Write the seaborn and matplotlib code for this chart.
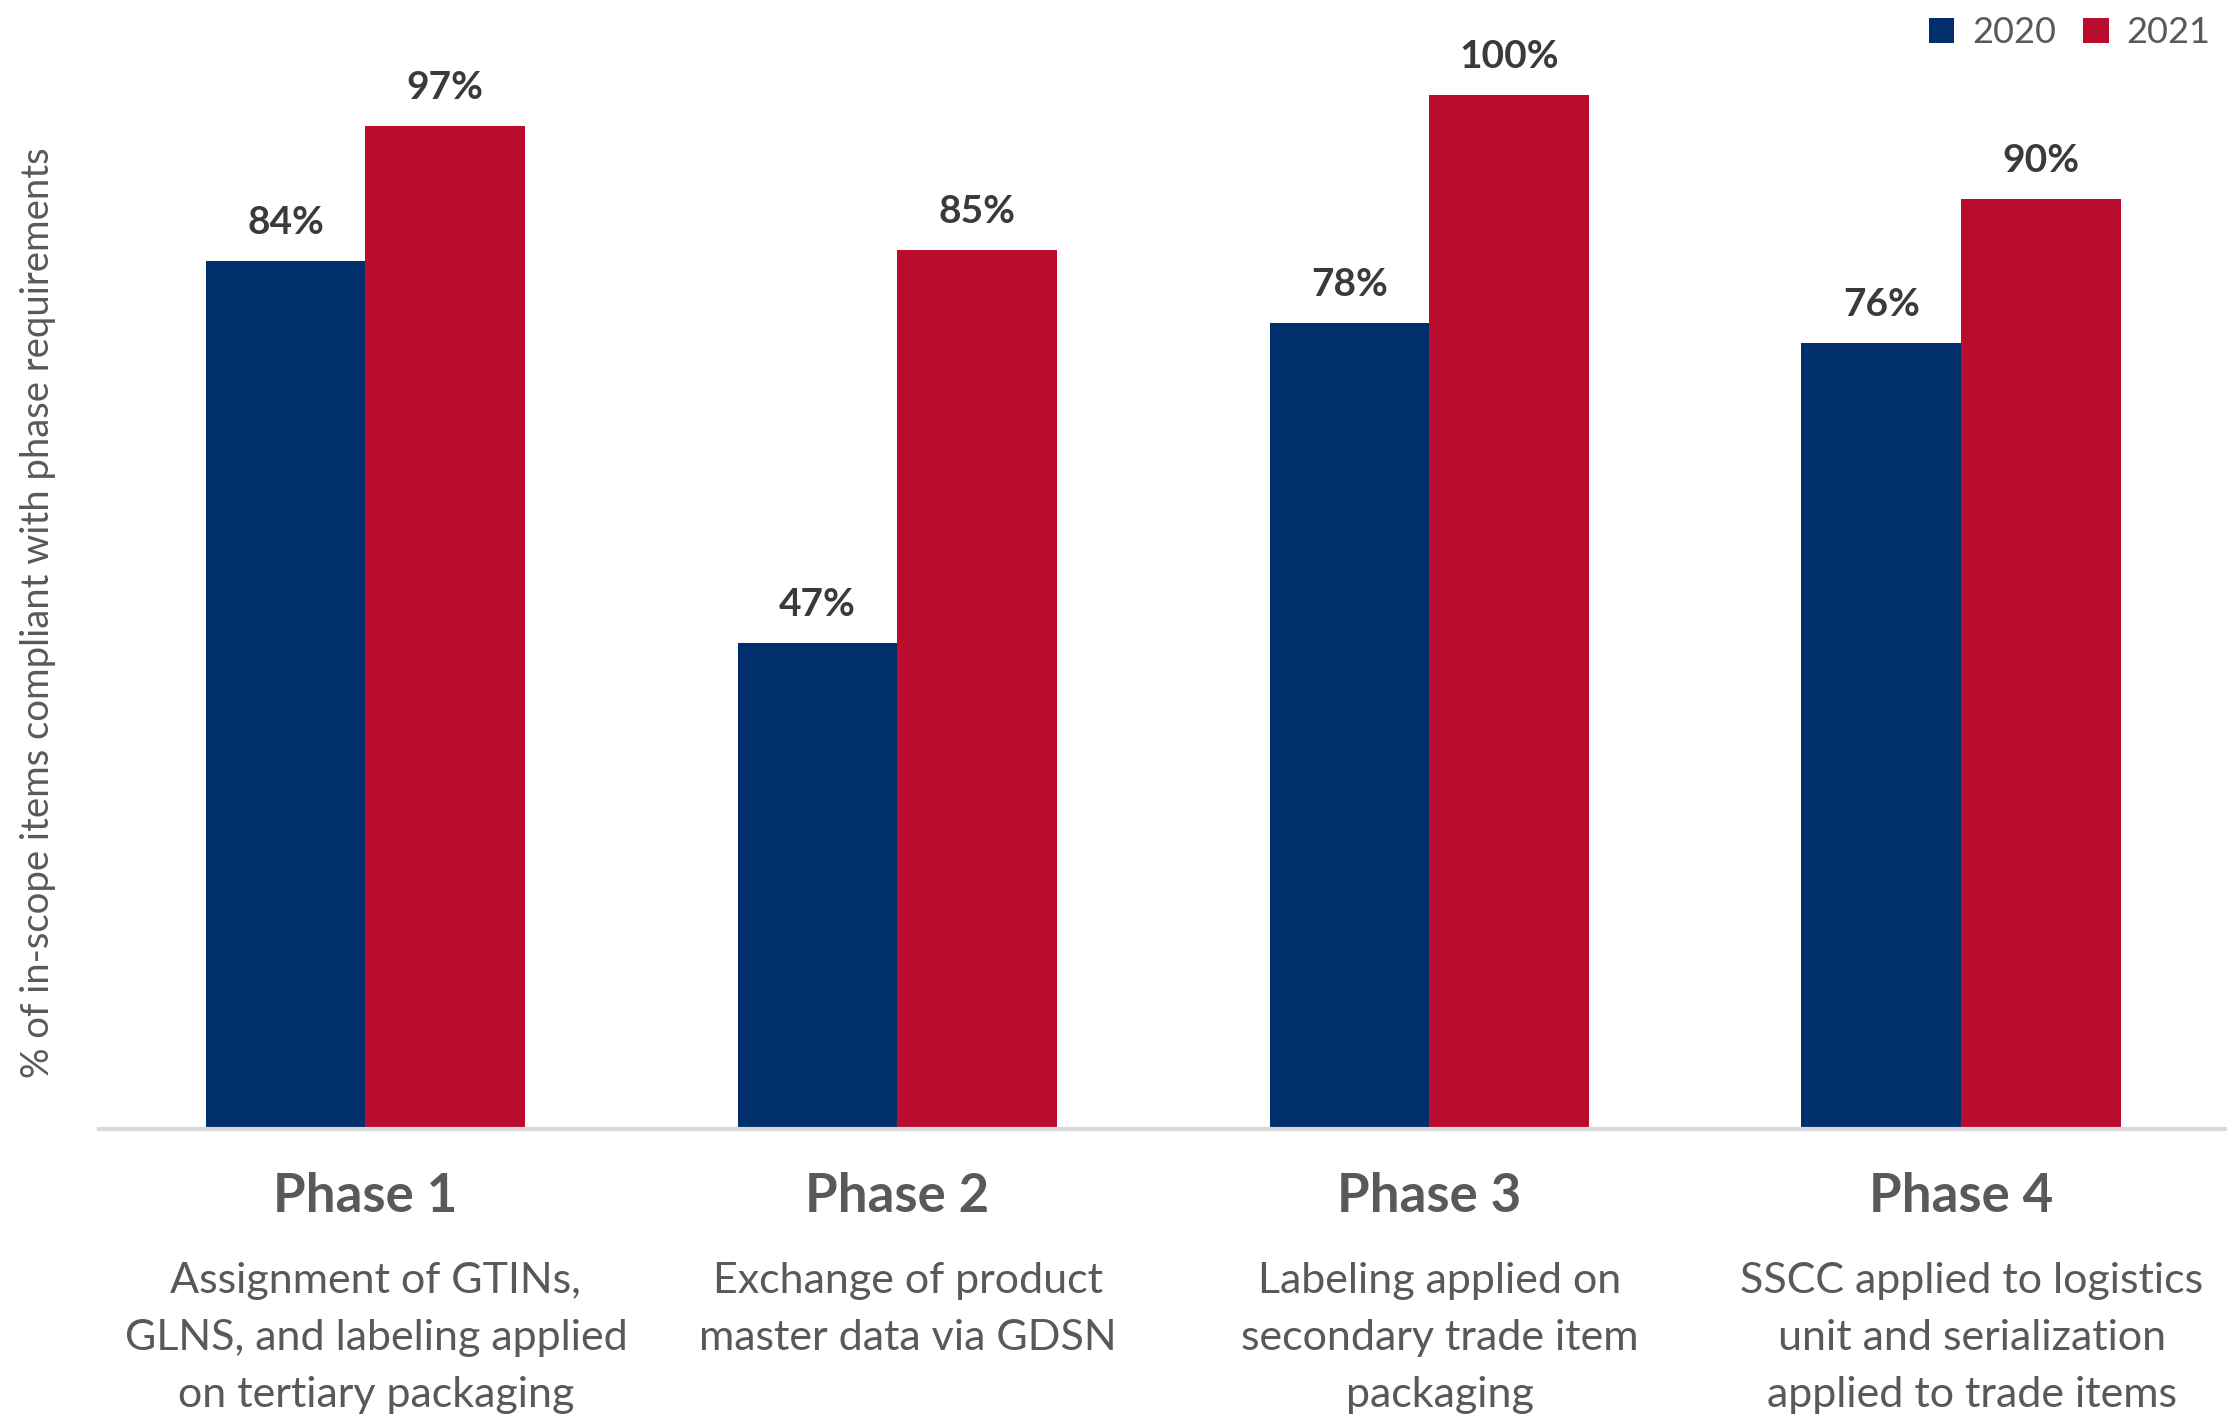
import matplotlib
matplotlib.use("Agg")
import matplotlib.pyplot as plt
import matplotlib.transforms as mtransforms
import pandas as pd
import seaborn as sns

# data
phases = ["Phase 1", "Phase 2", "Phase 3", "Phase 4"]
descriptions = [
    "Assignment of GTINs,\nGLNS, and labeling applied\non tertiary packaging",
    "Exchange of product\nmaster data via GDSN",
    "Labeling applied on\nsecondary trade item\npackaging",
    "SSCC applied to logistics\nunit and serialization\napplied to trade items",
]
years = ["2020", "2021"]
values_2020 = [84, 47, 78, 76]
values_2021 = [97, 85, 100, 90]

NAVY = "#002F6C"
RED = "#BA0C2F"
TEXT_DARK = "#3A3A3A"
TEXT_GRAY = "#595959"

df = pd.DataFrame({
    "phase": phases * 2,
    "year": [years[0]] * 4 + [years[1]] * 4,
    "value": values_2020 + values_2021,
})

sns.set_style("white")
plt.rcParams["font.family"] = ["Lato", "DejaVu Sans"]

fig = plt.figure(figsize=(22.27, 14.16), dpi=100)
ax = fig.add_axes([0.0446, 0.2026, 0.9554, 0.7667])

sns.barplot(data=df, x="phase", y="value", hue="year", order=phases,
            hue_order=years, palette=[NAVY, RED], width=0.6,
            saturation=1, linewidth=0, ax=ax)

for cont in ax.containers:
    ax.bar_label(cont, fmt="%d%%", padding=15, fontsize=28,
                 fontweight="bold", color=TEXT_DARK)

ax.set_xlim(-0.5, 3.5)
ax.set_ylim(0, 105)
ax.set_yticks([])
ax.set_xlabel("")
ax.set_ylabel("% of in-scope items compliant with phase requirements",
              fontsize=27.5, color=TEXT_GRAY)
ax.yaxis.set_label_coords(-0.0205, 0.476)

for side in ["top", "right", "left"]:
    ax.spines[side].set_visible(False)
ax.spines["bottom"].set_color("#D9D9D9")
ax.spines["bottom"].set_linewidth(3)

ax.tick_params(axis="x", length=0, pad=31)
for lab in ax.get_xticklabels():
    lab.set_fontsize(38)
    lab.set_fontweight("bold")
    lab.set_color(TEXT_GRAY)

trans = mtransforms.blended_transform_factory(ax.transData, ax.transAxes)
for i, desc in enumerate(descriptions):
    ax.text(i + 0.02, -0.122, desc, transform=trans, ha="center", va="top",
            fontsize=31, color=TEXT_GRAY, linespacing=1.62)

handles, labels = ax.get_legend_handles_labels()
ax.legend(handles, labels, ncol=2, loc="upper right",
          bbox_to_anchor=(1.0, 1.0), bbox_transform=fig.transFigure,
          frameon=False, fontsize=26, labelcolor=TEXT_GRAY,
          handlelength=0.7, handleheight=0.7, handletextpad=0.5,
          columnspacing=0.75, borderaxespad=0.0, borderpad=0.45)

fig.savefig("out.png", dpi=100)
